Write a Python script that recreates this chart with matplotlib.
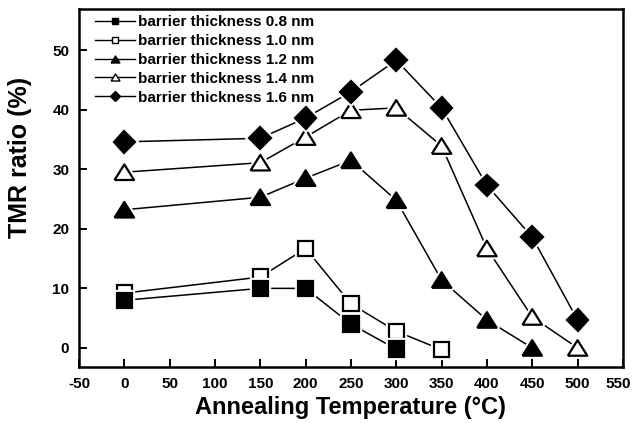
import matplotlib
matplotlib.use('Agg')
import matplotlib.pyplot as plt
import matplotlib.patheffects as pe
import matplotlib.transforms as mtrans
from matplotlib.lines import Line2D

plt.rcParams['font.family'] = ['Liberation Sans', 'DejaVu Sans']
plt.rcParams['font.weight'] = 'bold'
plt.rcParams['axes.unicode_minus'] = False

# temperatures (C) and TMR ratio (%)
temp_08 = [0, 150, 200, 250, 300]
tmr_08 = [8.0, 10.0, 10.0, 4.0, -0.2]

temp_10 = [0, 150, 200, 250, 300, 350]
tmr_10 = [9.2, 11.9, 16.7, 7.4, 2.8, -0.3]

temp_12 = [0, 150, 200, 250, 300, 350, 400, 450]
tmr_12 = [23.2, 25.3, 28.5, 31.5, 24.8, 11.4, 4.7, 0.0]

temp_14 = [0, 150, 200, 250, 300, 350, 400, 450, 500]
tmr_14 = [29.5, 31.1, 35.4, 39.9, 40.3, 33.9, 16.7, 5.2, 0.0]

temp_16 = [0, 150, 200, 250, 300, 350, 400, 450, 500]
tmr_16 = [34.6, 35.2, 38.6, 43.0, 48.3, 40.3, 27.3, 18.6, 4.7]

labels = ['barrier thickness 0.8 nm', 'barrier thickness 1.0 nm',
          'barrier thickness 1.2 nm', 'barrier thickness 1.4 nm',
          'barrier thickness 1.6 nm']

# wide triangle marker (closed path)
tri = [(-1, -0.8), (1, -0.8), (0, 0.8), (-1, -0.8)]
series = [
    (temp_08, tmr_08, 's', 'black', 11, 5),
    (temp_10, tmr_10, 's', 'white', 11, 4),
    (temp_12, tmr_12, tri, 'black', 14, 3),
    (temp_14, tmr_14, tri, 'white', 14, 3),
    (temp_16, tmr_16, 'D', 'black', 11, 3),
]

fig = plt.figure(figsize=(6.33, 4.23), dpi=100)
ax = fig.add_axes([0.1248, 0.1324, 0.8592, 0.8463])

halo = [pe.Stroke(linewidth=4.5, foreground='white'), pe.Normal()]
handles = []
for (x, y, m, fc, ms, z), lab in zip(series, labels):
    ax.plot(x, y, color='black', lw=1.1, zorder=2)
    ax.plot(x, y, ls='none', marker=m, ms=ms, mfc=fc, mec='black',
            mew=1.6, zorder=z, path_effects=halo)
    handles.append(Line2D([], [], color='black', lw=1.0, marker=m,
                          ms=ms * 0.45, mfc=fc, mec='black', mew=1.0))

ax.set_xlim(-50, 550)
ax.set_ylim(-3.2, 56.9)
ax.set_xticks(range(-50, 551, 50))
ax.set_yticks(range(0, 51, 10))
ax.tick_params(direction='in', length=6, width=1.4, labelsize=11,
               top=False, right=False, pad=7)
for s in ax.spines.values():
    s.set_linewidth(1.8)

# keep the last x tick label inside the picture
last = ax.get_xticklabels()[-1]
last.set_transform(last.get_transform() +
                   mtrans.ScaledTranslation(-5 / 100, 0, fig.dpi_scale_trans))

ax.set_xlabel('Annealing Temperature (°C)', fontsize=17, fontweight='bold',
              labelpad=4)
ax.set_ylabel('TMR ratio (%)', fontsize=18, fontweight='bold')
ax.yaxis.set_label_coords(-0.086, 0.585)

ax.legend(handles, labels, loc='upper left', bbox_to_anchor=(0.018, 1.0),
          frameon=False, handlelength=2.6, handletextpad=0.2,
          labelspacing=0.32, borderaxespad=0.0, borderpad=0.4,
          prop={'weight': 'bold', 'size': 11})

fig.savefig('out.png', dpi=100)
